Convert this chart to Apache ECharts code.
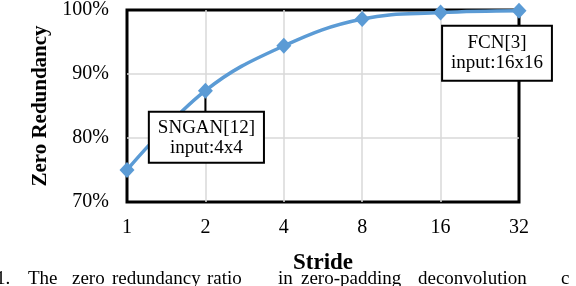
<!DOCTYPE html>
<html>
<head>
<meta charset="utf-8">
<script src="https://cdn.jsdelivr.net/npm/echarts@6/dist/echarts.min.js"></script>
<style>html,body{margin:0;padding:0;background:#fff}#c{width:576px;height:286px}</style>
</head>
<body>
<div id="c"></div>
<script>
var strides = ['1', '2', '4', '8', '16', '32'];
var zeroRedundancy = [75, 87.4, 94.4, 98.6, 99.6, 99.9];
var yTicks = [70, 80, 90, 100];
var annotations = { 1: ['SNGAN[12]', 'input:4x4'], 5: ['FCN[3]', 'input:16x16'] };
var captionWords = [['1.', -4], ['The', 28], ['zero', 72], ['redundancy', 112], ['ratio', 207], ['in', 278], ['zero-padding', 301], ['deconvolution', 418], ['c', 561]];

var FONT = '"Liberation Serif", "Times New Roman", serif';
var chart = echarts.init(document.getElementById('c'), null, { renderer: 'canvas' });

var leaderLen = { 1: 24, 5: 18 };

var seriesData = zeroRedundancy.map(function (v, i) {
  var item = { value: v };
  if (annotations[i]) {
    item.label = {
      show: true,
      position: 'bottom',
      distance: i === 1 ? 14 : 8,
      offset: i === 5 ? [-22, 0] : [1, 0],
      formatter: annotations[i].join('\n'),
      fontFamily: FONT,
      fontSize: 19,
      lineHeight: 20,
      color: '#000',
      backgroundColor: '#fff',
      borderColor: '#000',
      borderWidth: 2,
      padding: i === 1 ? [5, 8, 4, 8] : [6, 8, 7, 8],
      align: 'center'
    };
  }
  return item;
});

var captionGraphics = captionWords.map(function (w) {
  return {
    type: 'text', left: w[1], top: 270,
    style: { text: w[0], font: '19px ' + FONT, fill: '#000' }
  };
});

chart.setOption({
  animation: false,
  backgroundColor: '#fff',
  grid: { left: 127, right: 57, top: 7, bottom: 84, show: true, borderColor: '#000', borderWidth: 3, backgroundColor: 'transparent' },
  xAxis: {
    type: 'category', data: strides, boundaryGap: false,
    name: 'Stride', nameLocation: 'middle', nameGap: 50,
    nameTextStyle: { fontFamily: FONT, fontSize: 23, fontWeight: 'bold', color: '#000' },
    axisLine: { show: false }, axisTick: { show: false },
    axisLabel: { fontFamily: FONT, fontSize: 20, color: '#000', margin: 16 },
    splitLine: { show: true, showMinLine: false, showMaxLine: false, lineStyle: { color: '#d9d9d9', width: 1.5 } }
  },
  yAxis: {
    type: 'value', min: yTicks[0], max: yTicks[yTicks.length - 1], interval: 10,
    name: 'Zero Redundancy', nameLocation: 'middle', nameGap: 74, nameRotate: 90,
    nameTextStyle: { fontFamily: FONT, fontSize: 21, fontWeight: 'bold', color: '#000' },
    axisLine: { show: false }, axisTick: { show: false },
    axisLabel: { fontFamily: FONT, fontSize: 20, color: '#000', margin: 18, formatter: '{value}%' },
    splitLine: { show: true, showMinLine: false, showMaxLine: false, lineStyle: { color: '#d9d9d9', width: 1.5 } }
  },
  series: [{
    type: 'line', data: seriesData, smooth: 0.4,
    symbol: 'diamond', symbolSize: [15, 16],
    lineStyle: { color: '#5b9bd5', width: 3.5 },
    itemStyle: { color: '#5b9bd5' },
    label: { show: false },
    z: 5
  }],
  graphic: captionGraphics
});

// Leader lines: positions taken from the series layout computed by ECharts.
function pointPixel(i) {
  var p = null;
  try {
    var data = chart.getModel().getSeriesByIndex(0).getData();
    p = data.getItemLayout(i);
  } catch (e) { p = null; }
  if (!p || isNaN(p[0]) || isNaN(p[1])) {
    p = chart.convertToPixel({ xAxisIndex: 0, yAxisIndex: 0 }, [strides[i], zeroRedundancy[i]]);
  }
  return p;
}
var leaderGraphics = Object.keys(annotations).map(function (k) {
  var i = +k;
  var p = pointPixel(i);
  return {
    type: 'line', z: 3, silent: true,
    shape: { x1: p[0], y1: p[1], x2: p[0], y2: p[1] + leaderLen[i] },
    style: { stroke: '#000', lineWidth: 2 }
  };
});
chart.setOption({ graphic: captionGraphics.concat(leaderGraphics) });
</script>
</body>
</html>
